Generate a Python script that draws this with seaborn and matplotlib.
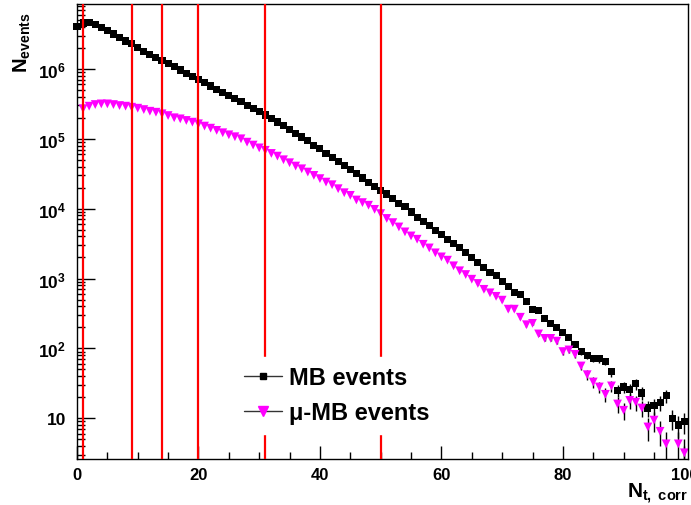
"""Track multiplicity distributions for MB and mu-MB events."""
import matplotlib
matplotlib.use("Agg")
import matplotlib.pyplot as plt
from matplotlib.lines import Line2D
from matplotlib.ticker import FixedLocator, LogLocator, MultipleLocator, NullFormatter
import numpy as np
import pandas as pd
import seaborn as sns

# Data
n_tracks = list(range(0, 101))
mb_counts = [
    4.07e6, 4.54e6, 4.65e6, 4.27e6, 3.94e6, 3.53e6, 3.16e6, 2.82e6, 2.51e6, 2.29e6,
    2.00e6, 1.80e6, 1.62e6, 1.46e6, 1.32e6, 1.19e6, 1.07e6, 9.66e5, 8.71e5, 7.85e5,
    7.08e5, 6.31e5, 5.69e5, 5.13e5, 4.62e5, 4.17e5, 3.76e5, 3.39e5, 3.02e5, 2.72e5,
    2.45e5, 2.19e5, 1.95e5, 1.74e5, 1.55e5, 1.36e5, 1.20e5, 1.06e5, 9.33e4, 8.13e4,
    7.16e4, 6.24e4, 5.43e4, 4.79e4, 4.17e4, 3.63e4, 3.16e4, 2.75e4, 2.40e4, 2.09e4,
    1.83e4, 1.62e4, 1.40e4, 1.20e4, 1.06e4, 8950, 7360, 6590, 5780, 4900,
    4260, 3650, 3160, 2740, 2350, 1970, 1690, 1420, 1220, 1090,
    902, 776, 631, 590, 474, 364, 352, 269, 228, 198,
    169, 142, 114, 91, 79, 72, 71, 65, 46, 25,
    28, 26, 31, 23, 14, 15, 17, 21, 10, 8,
    9,
]
mumb_counts = [
    0, 2.69e5, 2.93e5, 3.09e5, 3.16e5, 3.16e5, 3.09e5, 2.99e5, 2.93e5, 2.83e5,
    2.74e5, 2.62e5, 2.48e5, 2.40e5, 2.28e5, 2.15e5, 2.00e5, 1.93e5, 1.83e5, 1.73e5,
    1.64e5, 1.52e5, 1.42e5, 1.32e5, 1.22e5, 1.14e5, 1.07e5, 1.00e5, 8.95e4, 8.13e4,
    7.41e4, 6.84e4, 6.17e4, 5.65e4, 5.01e4, 4.54e4, 4.07e4, 3.72e4, 3.34e4, 2.99e4,
    2.69e4, 2.40e4, 2.20e4, 1.93e4, 1.69e4, 1.55e4, 1.33e4, 1.22e4, 1.12e4, 9770,
    8490, 7240, 6310, 5470, 4650, 4070, 3650, 3090, 2740, 2330,
    2040, 1830, 1520, 1290, 1140, 977, 849, 700, 624, 556,
    490, 364, 364, 279, 218, 228, 161, 139, 139, 127,
    90, 95, 82, 56, 42, 33, 28, 22, 29, 16,
    13, 18, 17, 14, 7.5, 9.4, 6.5, 4.3, 0, 4.3,
    3.2,
]
series_names = ["MB events", "μ-MB events"]
cut_edges = [1, 9, 14, 20, 31, 50]
y_tick_values = [10, 1e2, 1e3, 1e4, 1e5, 1e6]
y_tick_labels = ["10", r"$10^{2}$", r"$10^{3}$", r"$10^{4}$", r"$10^{5}$", r"$10^{6}$"]
x_tick_values = [0, 20, 40, 60, 80, 100]

sns.set_theme(style="white")
plt.rcParams["font.family"] = ["Liberation Sans", "DejaVu Sans"]
plt.rcParams["font.weight"] = "bold"
plt.rcParams["text.color"] = "black"
plt.rcParams["mathtext.fontset"] = "custom"
plt.rcParams["mathtext.rm"] = "Liberation Sans:bold"
plt.rcParams["mathtext.it"] = "Liberation Sans:bold"
plt.rcParams["mathtext.bf"] = "Liberation Sans:bold"

MAGENTA = "#ff00ff"


def main() -> None:
    df = pd.DataFrame({
        "ntrk": n_tracks * 2,
        "count": mb_counts + mumb_counts,
        "sample": [series_names[0]] * len(mb_counts) + [series_names[1]] * len(mumb_counts),
    })
    df = df[df["count"] > 0]

    fig = plt.figure(figsize=(6.91, 5.06), dpi=100)
    ax = fig.add_axes([77 / 691, 1 - 460 / 506, 611 / 691, 455 / 506])
    ax.set_yscale("log")

    # Poisson error bars, drawn in black like ROOT does
    for name in series_names:
        sub = df[df["sample"] == name]
        ax.errorbar(sub["ntrk"], sub["count"], yerr=np.sqrt(sub["count"]), fmt="none",
                    ecolor="black", elinewidth=1, capsize=0, zorder=1)

    sns.scatterplot(data=df[df["sample"] == series_names[0]], x="ntrk", y="count",
                    marker="s", color="black", s=26, edgecolor="none", ax=ax,
                    legend=False, zorder=2, clip_on=False)
    sns.scatterplot(data=df[df["sample"] == series_names[1]], x="ntrk", y="count",
                    marker="v", color=MAGENTA, s=40, edgecolor="none", ax=ax,
                    legend=False, zorder=2, clip_on=False)

    for edge in cut_edges:
        ax.axvline(edge, color="#ff0000", lw=1.6, zorder=3)

    ax.set_xlim(0, 100.6)
    ax.set_ylim(2.61, 8.5e6)

    ax.xaxis.set_major_locator(FixedLocator(x_tick_values))
    ax.xaxis.set_minor_locator(MultipleLocator(5))
    ax.yaxis.set_major_locator(FixedLocator(y_tick_values))
    ax.set_yticklabels(y_tick_labels)
    ax.yaxis.set_minor_locator(LogLocator(base=10, subs=np.arange(2, 10)))
    ax.yaxis.set_minor_formatter(NullFormatter())

    ax.tick_params(which="both", direction="in", bottom=True, left=True, top=False,
                   right=False, color="black", labelcolor="black", width=1)
    ax.tick_params(axis="y", which="major", length=13, pad=8, labelsize=12.5)
    ax.tick_params(axis="y", which="minor", length=6)
    ax.tick_params(axis="x", which="major", length=9.5, pad=6, labelsize=12)
    ax.tick_params(axis="x", which="minor", length=5)
    for spine in ax.spines.values():
        spine.set_color("black")
        spine.set_linewidth(1)
    ax.set_xlabel("")
    ax.set_ylabel("")

    fig.text(688 / 691, 1 - 498 / 506, r"$N_{t,\ corr}$", ha="right", va="baseline",
             fontsize=15)
    fig.text(22 / 691, 1 - 12 / 506, r"$N_{events}$", ha="center", va="top",
             rotation=90, fontsize=14.5)

    handles = [
        Line2D([], [], color="#333333", lw=1, marker="s", markersize=5,
               markerfacecolor="black", markeredgecolor="black"),
        Line2D([], [], color="#333333", lw=1, marker="v", markersize=6.5,
               markerfacecolor=MAGENTA, markeredgecolor=MAGENTA),
    ]
    leg = ax.legend(handles, series_names, loc="upper left",
                    bbox_to_anchor=(235 / 691, 1 - 358 / 506), bbox_transform=fig.transFigure,
                    frameon=True, fancybox=False, edgecolor="white", facecolor="white",
                    framealpha=1, prop={"size": 17, "weight": "bold"}, labelcolor="black",
                    handlelength=1.6, handletextpad=0.3, labelspacing=0.5, borderpad=0.4,
                    borderaxespad=0)
    leg.set_zorder(10)

    fig.savefig("out.png", dpi=100)


if __name__ == "__main__":
    main()
